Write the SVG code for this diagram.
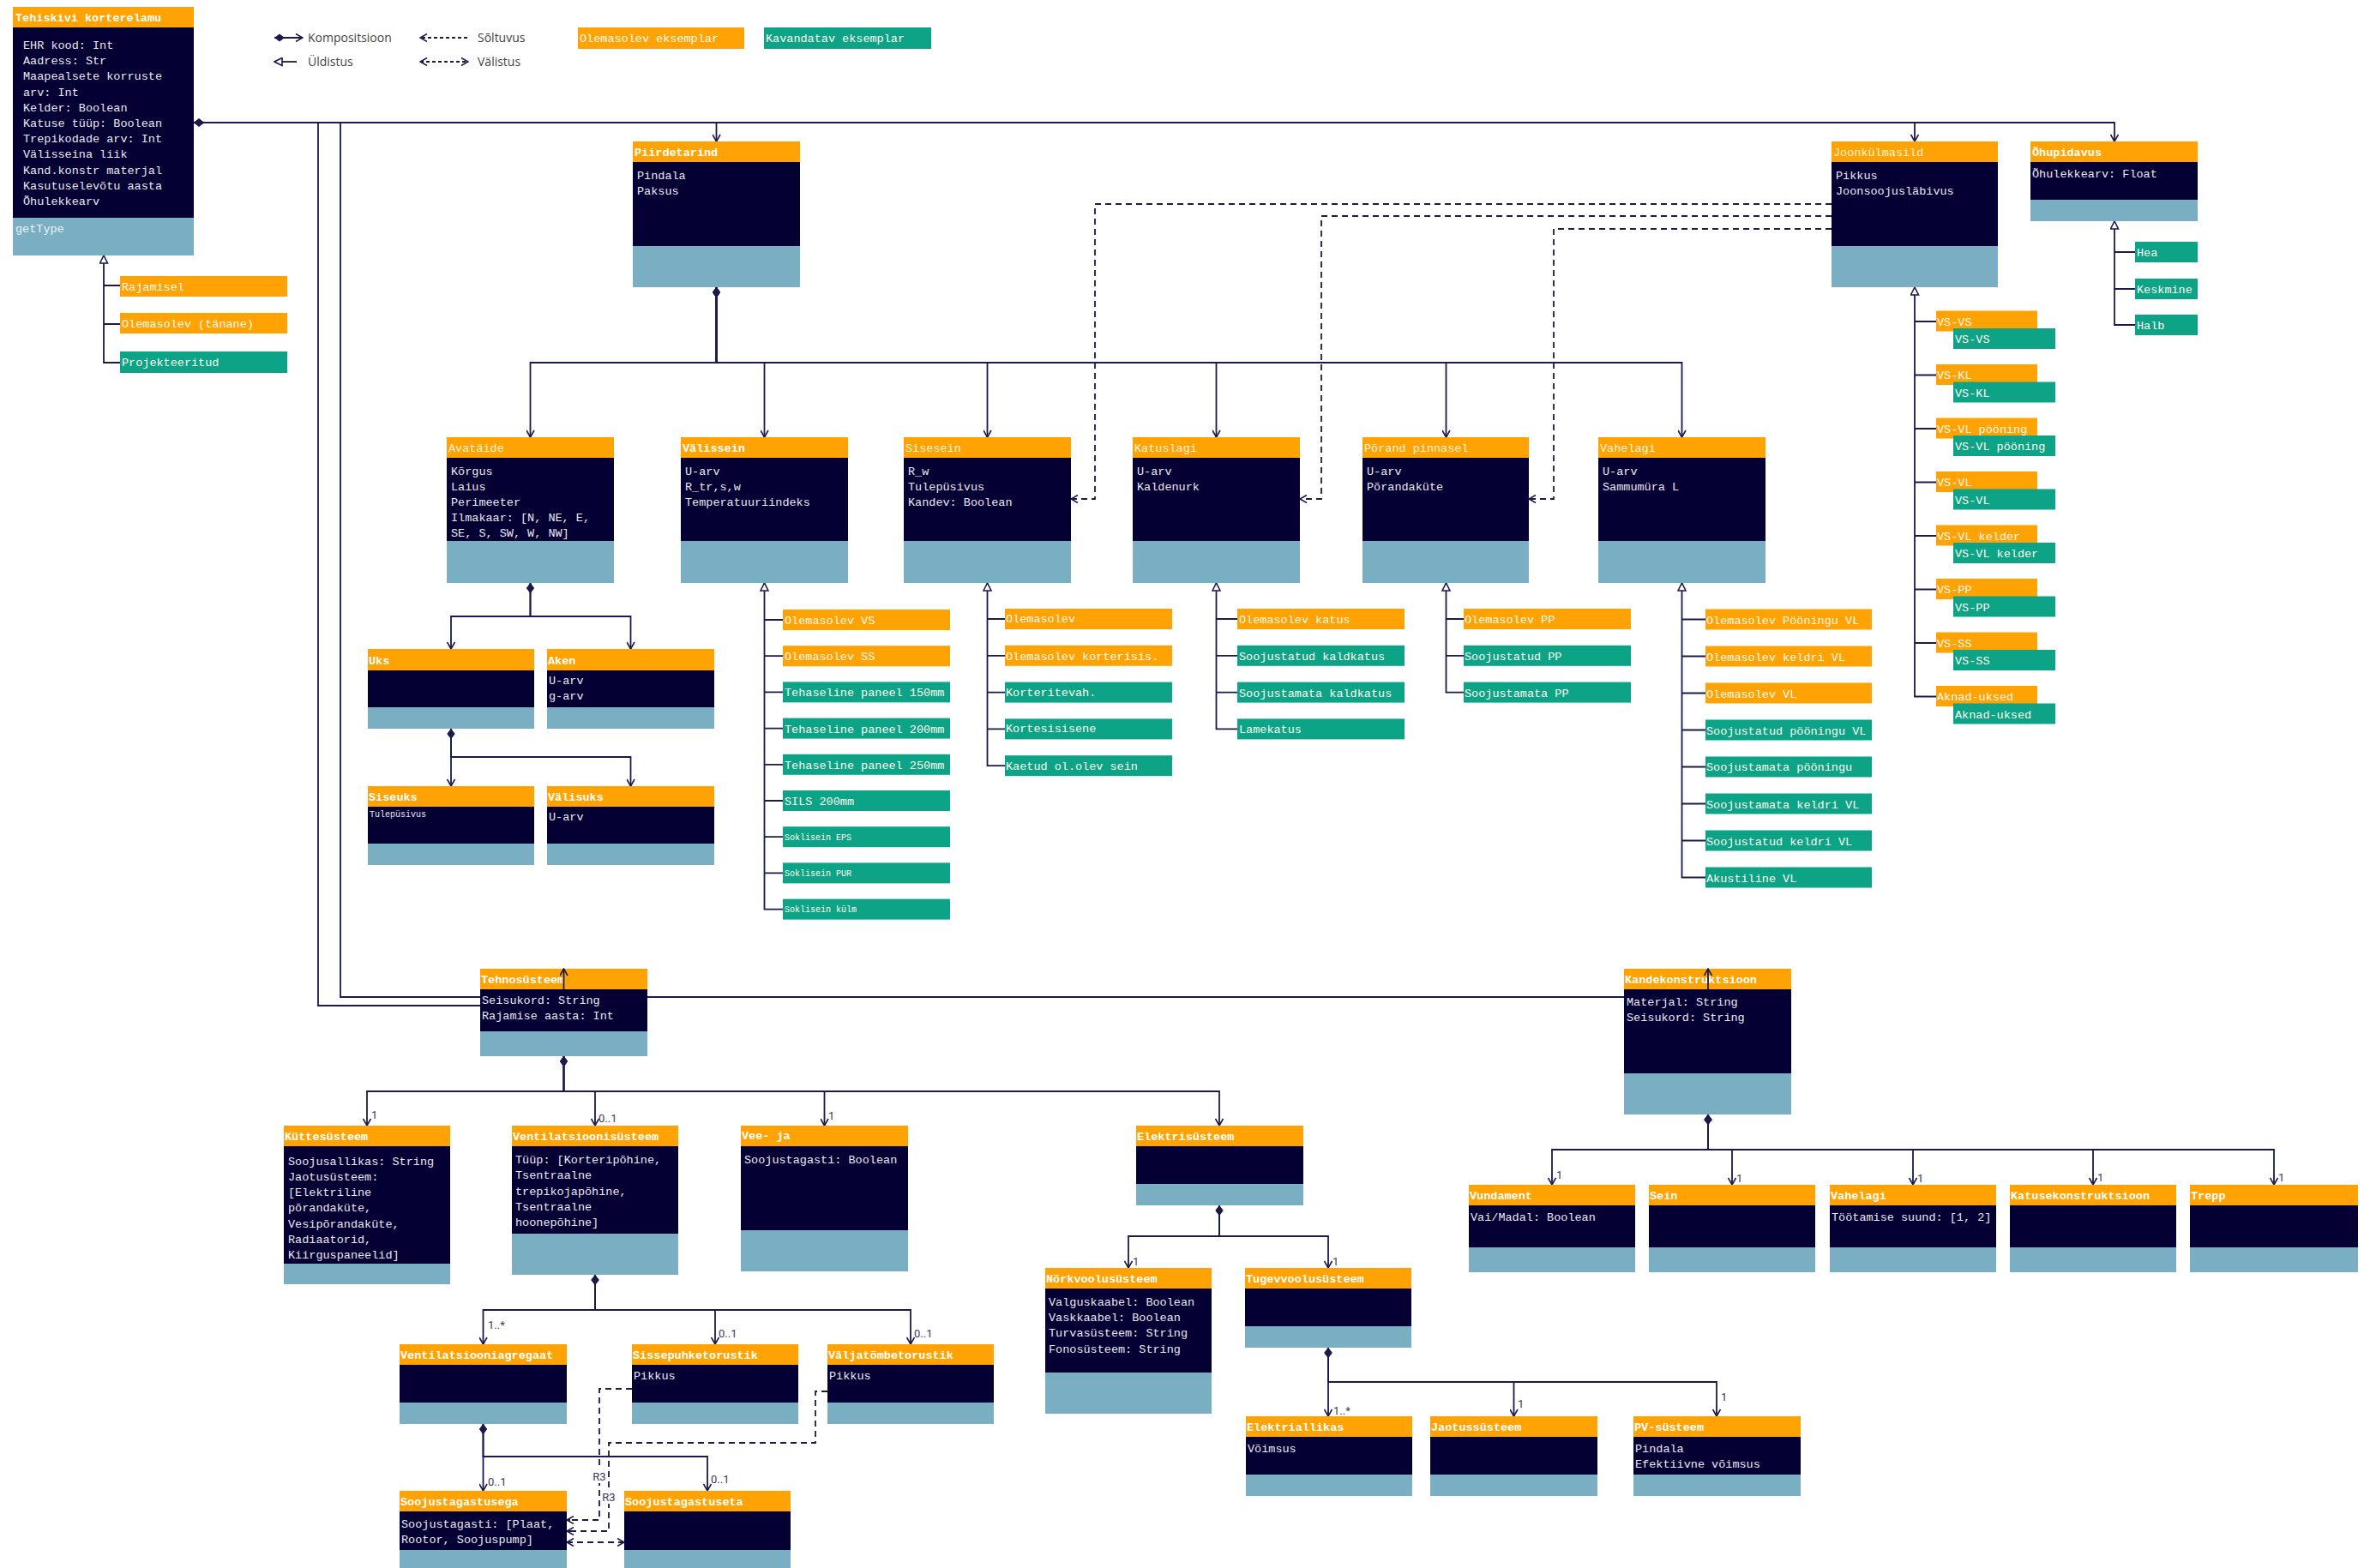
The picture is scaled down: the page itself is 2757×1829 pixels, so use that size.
<svg xmlns="http://www.w3.org/2000/svg" width="2757" height="1829" viewBox="0 0 2757 1829">
<style>
.o{fill:#FFA305}
.g{fill:#0DA386}
.b{fill:#050033}
.m{fill:#7AAEC3}
text{font-family:"Liberation Mono","DejaVu Sans Mono",monospace;font-size:13.5px}
.t{fill:#e9e9f2}
.h{fill:#ffffff;font-weight:bold}
.hn{fill:#fff4dc}
.lt{fill:#fffaf0}
.s{font-size:10px}
.mt{fill:#eef5f9}
.ln{fill:none;stroke:#1b1a4a;stroke-width:1.8}
.da{stroke-dasharray:7 5}
.mul{font-family:Roboto,"Liberation Sans",sans-serif;font-size:13px;fill:#3a3a55}
.leg{font-family:"Open Sans","Liberation Sans",sans-serif;font-size:14px;fill:#444}
</style>
<defs>
<marker id="arr" viewBox="0 0 10 10" refX="9" refY="5" markerWidth="10" markerHeight="10" markerUnits="userSpaceOnUse" orient="auto"><path d="M1,0.5 L9,5 L1,9.5" fill="none" stroke="#1b1a4a" stroke-width="1.6"/></marker>
<marker id="arrS" viewBox="0 0 10 10" refX="9" refY="5" markerWidth="10" markerHeight="10" markerUnits="userSpaceOnUse" orient="auto-start-reverse"><path d="M1,0.5 L9,5 L1,9.5" fill="none" stroke="#1b1a4a" stroke-width="1.6"/></marker>
<marker id="dia" viewBox="0 0 12 10" refX="0" refY="5" markerWidth="12" markerHeight="10" markerUnits="userSpaceOnUse" orient="auto"><path d="M0,5 L6,0.5 L12,5 L6,9.5 Z" fill="#1b1a4a"/></marker>
<marker id="tri" viewBox="0 0 11 11" refX="10" refY="5.5" markerWidth="11" markerHeight="11" markerUnits="userSpaceOnUse" orient="auto"><path d="M1,1 L10,5.5 L1,10 Z" fill="#fff" stroke="#1b1a4a" stroke-width="1.6"/></marker>
</defs>
<rect width="2757" height="1829" fill="#ffffff"/>

<g id="connectors">
<!-- from Tehiskivi -->
<path class="ln" marker-start="url(#dia)" marker-end="url(#arr)" d="M226,143 H835.5 V165"/>
<path class="ln" marker-start="url(#dia)" marker-end="url(#arr)" d="M226,143 H2233 V165"/>
<path class="ln" marker-start="url(#dia)" marker-end="url(#arr)" d="M226,143 H2466 V165"/>
<path class="ln" marker-start="url(#dia)" d="M226,143 H371 V1173 H657.5 V1154"/>
<path class="ln" marker-start="url(#dia)" d="M226,143 H397 V1163 H1992 V1154"/>
<!-- Tehiskivi generalisation -->
<path class="ln" marker-end="url(#tri)" d="M140,423 H121 V298"/>
<path class="ln" d="M121,333 H140 M121,378 H140"/>
<!-- Õhupidavus -->
<path class="ln" marker-end="url(#tri)" d="M2490,379 H2466 V258"/>
<path class="ln" d="M2466,294 H2490 M2466,337 H2490"/>
<!-- Joonkülmasild -->
<path class="ln" marker-end="url(#tri)" d="M2258,812.5 H2233 V335"/>
<path class="ln" d="M2233,375 H2258 M2233,437.5 H2258 M2233,500 H2258 M2233,562.5 H2258 M2233,625 H2258 M2233,687.5 H2258 M2233,750 H2258"/>
<!-- Piirdetarind composition -->
<path class="ln" marker-start="url(#dia)" marker-end="url(#arr)" d="M835.5,335 V423 H618.5 V510"/>
<path class="ln" marker-start="url(#dia)" marker-end="url(#arr)" d="M835.5,335 V423 H891.5 V510"/>
<path class="ln" marker-start="url(#dia)" marker-end="url(#arr)" d="M835.5,335 V423 H1151.5 V510"/>
<path class="ln" marker-start="url(#dia)" marker-end="url(#arr)" d="M835.5,335 V423 H1418.5 V510"/>
<path class="ln" marker-start="url(#dia)" marker-end="url(#arr)" d="M835.5,335 V423 H1686.5 V510"/>
<path class="ln" marker-start="url(#dia)" marker-end="url(#arr)" d="M835.5,335 V423 H1961.5 V510"/>
<!-- dependencies from Joonkülmasild -->
<path class="ln da" marker-end="url(#arr)" d="M2136,238 H1277 V582 H1249"/>
<path class="ln da" marker-end="url(#arr)" d="M2136,252 H1541 V582 H1516"/>
<path class="ln da" marker-end="url(#arr)" d="M2136,267 H1812 V582 H1783"/>
<!-- Välissein generalisation -->
<path class="ln" marker-end="url(#tri)" d="M913,1060.6 H891.5 V680"/>
<path class="ln" d="M891.5,723 H913 M891.5,765.2 H913 M891.5,807.4 H913 M891.5,849.6 H913 M891.5,891.8 H913 M891.5,934 H913 M891.5,976.2 H913 M891.5,1018.4 H913"/>
<!-- Sisesein -->
<path class="ln" marker-end="url(#tri)" d="M1172,893.2 H1151.5 V680"/>
<path class="ln" d="M1151.5,722 H1172 M1151.5,764.8 H1172 M1151.5,807.6 H1172 M1151.5,850.4 H1172"/>
<!-- Katuslagi -->
<path class="ln" marker-end="url(#tri)" d="M1443,850.4 H1418.5 V680"/>
<path class="ln" d="M1418.5,722 H1443 M1418.5,764.8 H1443 M1418.5,807.6 H1443"/>
<!-- Põrand -->
<path class="ln" marker-end="url(#tri)" d="M1707,807.6 H1686.5 V680"/>
<path class="ln" d="M1686.5,722 H1707 M1686.5,764.8 H1707"/>
<!-- Vahelagi -->
<path class="ln" marker-end="url(#tri)" d="M1989,1023.5 H1961.5 V680"/>
<path class="ln" d="M1961.5,722.5 H1989 M1961.5,765.5 H1989 M1961.5,808.5 H1989 M1961.5,851.5 H1989 M1961.5,894.5 H1989 M1961.5,937.5 H1989 M1961.5,980.5 H1989"/>
<!-- Avatäide -->
<path class="ln" marker-start="url(#dia)" marker-end="url(#arr)" d="M618.5,680 V719 H526 V757"/>
<path class="ln" marker-start="url(#dia)" marker-end="url(#arr)" d="M618.5,680 V719 H735.5 V757"/>
<!-- Uks -->
<path class="ln" marker-start="url(#dia)" marker-end="url(#arr)" d="M526,850 V917"/>
<path class="ln" marker-start="url(#dia)" marker-end="url(#arr)" d="M526,850 V883 H735.5 V917"/>
<!-- Tehnosüsteem -->
<path class="ln" marker-start="url(#dia)" marker-end="url(#arr)" d="M657.5,1232 V1273 H428 V1313"/>
<path class="ln" marker-start="url(#dia)" marker-end="url(#arr)" d="M657.5,1232 V1273 H694 V1313"/>
<path class="ln" marker-start="url(#dia)" marker-end="url(#arr)" d="M657.5,1232 V1273 H961.5 V1313"/>
<path class="ln" marker-start="url(#dia)" marker-end="url(#arr)" d="M657.5,1232 V1273 H1422 V1313"/>
<!-- Elektrisüsteem -->
<path class="ln" marker-start="url(#dia)" marker-end="url(#arr)" d="M1422,1406 V1442 H1316 V1479"/>
<path class="ln" marker-start="url(#dia)" marker-end="url(#arr)" d="M1422,1406 V1442 H1549 V1479"/>
<!-- Tugevvool -->
<path class="ln" marker-start="url(#dia)" marker-end="url(#arr)" d="M1549,1572 V1652"/>
<path class="ln" marker-start="url(#dia)" marker-end="url(#arr)" d="M1549,1572 V1612 H1765.5 V1652"/>
<path class="ln" marker-start="url(#dia)" marker-end="url(#arr)" d="M1549,1572 V1612 H2002 V1652"/>
<!-- Kandekonstruktsioon -->
<path class="ln" marker-start="url(#dia)" marker-end="url(#arr)" d="M1992,1300 V1341 H1810 V1382"/>
<path class="ln" marker-start="url(#dia)" marker-end="url(#arr)" d="M1992,1300 V1341 H2020 V1382"/>
<path class="ln" marker-start="url(#dia)" marker-end="url(#arr)" d="M1992,1300 V1341 H2231 V1382"/>
<path class="ln" marker-start="url(#dia)" marker-end="url(#arr)" d="M1992,1300 V1341 H2441 V1382"/>
<path class="ln" marker-start="url(#dia)" marker-end="url(#arr)" d="M1992,1300 V1341 H2652 V1382"/>
<!-- Ventilatsioonisüsteem -->
<path class="ln" marker-start="url(#dia)" marker-end="url(#arr)" d="M694,1487 V1528 H563.5 V1568"/>
<path class="ln" marker-start="url(#dia)" marker-end="url(#arr)" d="M694,1487 V1528 H834 V1568"/>
<path class="ln" marker-start="url(#dia)" marker-end="url(#arr)" d="M694,1487 V1528 H1062 V1568"/>
<!-- Agregaat -->
<path class="ln" marker-start="url(#dia)" marker-end="url(#arr)" d="M563.5,1661 V1739"/>
<path class="ln" marker-start="url(#dia)" marker-end="url(#arr)" d="M563.5,1661 V1699 H825 V1739"/>
<!-- R3 dependencies -->
<path class="ln da" marker-end="url(#arr)" d="M737,1620 H699 V1773 H661"/>
<path class="ln da" marker-end="url(#arr)" d="M965,1623 H951 V1683 H710 V1786 H661"/>
<path class="ln da" marker-start="url(#arrS)" marker-end="url(#arr)" d="M661,1799 H728"/>
<rect x="689" y="1713" width="20" height="17" fill="#fff"/>
<text class="mul" x="699" y="1727" text-anchor="middle">R3</text>
<rect x="700" y="1737" width="20" height="17" fill="#fff"/>
<text class="mul" x="710" y="1751" text-anchor="middle">R3</text>
<!-- multiplicities -->
<text class="mul" x="433" y="1305">1</text>
<text class="mul" x="698" y="1309">0..1</text>
<text class="mul" x="966" y="1306">1</text>
<text class="mul" x="1321" y="1476">1</text>
<text class="mul" x="1554" y="1476">1</text>
<text class="mul" x="1555" y="1650">1..*</text>
<text class="mul" x="1770" y="1642">1</text>
<text class="mul" x="2007" y="1634">1</text>
<text class="mul" x="1815" y="1375">1</text>
<text class="mul" x="2025" y="1379">1</text>
<text class="mul" x="2236" y="1379">1</text>
<text class="mul" x="2446" y="1378">1</text>
<text class="mul" x="2657" y="1378">1</text>
<text class="mul" x="569" y="1550">1..*</text>
<text class="mul" x="838" y="1560">0..1</text>
<text class="mul" x="1066" y="1560">0..1</text>
<text class="mul" x="569" y="1733">0..1</text>
<text class="mul" x="829" y="1730">0..1</text>
</g>

<g id="legend">
<path class="ln" marker-start="url(#dia)" marker-end="url(#arr)" d="M320,44 H353"/>
<text class="leg" x="359" y="49">Kompositsioon</text>
<path class="ln" marker-end="url(#tri)" d="M346,72 H320"/>
<text class="leg" x="359" y="77">Üldistus</text>
<path class="ln" stroke-dasharray="4 3" marker-end="url(#arr)" d="M545,44 H490"/>
<text class="leg" x="557" y="49">Sõltuvus</text>
<path class="ln" stroke-dasharray="4 3" marker-start="url(#arrS)" marker-end="url(#arr)" d="M490,72 H546"/>
<text class="leg" x="557" y="77">Välistus</text>
<rect class="o" x="674" y="32" width="194" height="25"/>
<text class="lt" x="676" y="49">Olemasolev eksemplar</text>
<rect class="g" x="891" y="32" width="195" height="25"/>
<text class="lt" x="893" y="49">Kavandatav eksemplar</text>
</g>

<g id="n-tehiskivi">
<rect class="o" x="15" y="8" width="211" height="24"/>
<rect class="b" x="15" y="32" width="211" height="222"/>
<rect class="m" x="15" y="254" width="211" height="44"/>
<text class="h" x="18" y="25">Tehiskivi korterelamu</text>
<text class="t" x="27" y="57">EHR kood: Int</text>
<text class="t" x="27" y="75">Aadress: Str</text>
<text class="t" x="27" y="93">Maapealsete korruste</text>
<text class="t" x="27" y="112">arv: Int</text>
<text class="t" x="27" y="130">Kelder: Boolean</text>
<text class="t" x="27" y="148">Katuse tüüp: Boolean</text>
<text class="t" x="27" y="166">Trepikodade arv: Int</text>
<text class="t" x="27" y="184">Välisseina liik</text>
<text class="t" x="27" y="203">Kand.konstr materjal</text>
<text class="t" x="27" y="221">Kasutuselevõtu aasta</text>
<text class="t" x="27" y="239">Õhulekkearv</text>
<text class="mt" x="18" y="271">getType</text>
</g>
<g id="n-rajamisel"><rect class="o" x="140" y="322" width="195" height="24"/><text class="lt" x="142" y="339">Rajamisel</text></g>
<g id="n-olemasolev-tanane"><rect class="o" x="140" y="365" width="195" height="24"/><text class="lt" x="142" y="382">Olemasolev (tänane)</text></g>
<g id="n-projekteeritud"><rect class="g" x="140" y="410" width="195" height="25"/><text class="lt" x="142" y="427">Projekteeritud</text></g>

<g id="n-piirdetarind">
<rect class="o" x="738" y="165" width="195" height="24"/>
<rect class="b" x="738" y="189" width="195" height="98"/>
<rect class="m" x="738" y="287" width="195" height="48"/>
<text class="h" x="740" y="182">Piirdetarind</text>
<text class="t" x="743" y="209">Pindala</text>
<text class="t" x="743" y="227">Paksus</text>
</g>
<g id="n-joonkulmasild">
<rect class="o" x="2136" y="165" width="194" height="24"/>
<rect class="b" x="2136" y="189" width="194" height="98"/>
<rect class="m" x="2136" y="287" width="194" height="48"/>
<text class="hn" x="2138" y="182">Joonkülmasild</text>
<text class="t" x="2141" y="209">Pikkus</text>
<text class="t" x="2141" y="227">Joonsoojusläbivus</text>
</g>
<g id="n-ohupidavus">
<rect class="o" x="2368" y="165" width="195" height="24"/>
<rect class="b" x="2368" y="189" width="195" height="44"/>
<rect class="m" x="2368" y="233" width="195" height="25"/>
<text class="h" x="2370" y="182">Õhupidavus</text>
<text class="t" x="2370" y="207">Õhulekkearv: Float</text>
</g>
<g id="n-hea"><rect class="g" x="2490" y="282" width="73" height="24"/><text class="lt" x="2492" y="299">Hea</text></g>
<g id="n-keskmine"><rect class="g" x="2490" y="325" width="73" height="24"/><text class="lt" x="2492" y="342">Keskmine</text></g>
<g id="n-halb"><rect class="g" x="2490" y="367" width="73" height="24"/><text class="lt" x="2492" y="384">Halb</text></g>

<g id="n-vs-vs"><rect class="o" x="2258" y="362.5" width="118" height="24"/><text class="lt" x="2259" y="379.5">VS-VS</text><rect class="g" x="2278" y="383" width="119" height="24"/><text class="lt" x="2280" y="400">VS-VS</text></g>
<g id="n-vs-kl"><rect class="o" x="2258" y="425" width="118" height="24"/><text class="lt" x="2259" y="442">VS-KL</text><rect class="g" x="2278" y="445.5" width="119" height="24"/><text class="lt" x="2280" y="462.5">VS-KL</text></g>
<g id="n-vs-vl-pooning"><rect class="o" x="2258" y="487.5" width="118" height="24"/><text class="lt" x="2259" y="504.5">VS-VL pööning</text><rect class="g" x="2278" y="508" width="119" height="24"/><text class="lt" x="2280" y="525">VS-VL pööning</text></g>
<g id="n-vs-vl"><rect class="o" x="2258" y="550" width="118" height="24"/><text class="lt" x="2259" y="567">VS-VL</text><rect class="g" x="2278" y="570.5" width="119" height="24"/><text class="lt" x="2280" y="587.5">VS-VL</text></g>
<g id="n-vs-vl-kelder"><rect class="o" x="2258" y="612.5" width="118" height="24"/><text class="lt" x="2259" y="629.5">VS-VL kelder</text><rect class="g" x="2278" y="633" width="119" height="24"/><text class="lt" x="2280" y="650">VS-VL kelder</text></g>
<g id="n-vs-pp"><rect class="o" x="2258" y="675" width="118" height="24"/><text class="lt" x="2259" y="692">VS-PP</text><rect class="g" x="2278" y="695.5" width="119" height="24"/><text class="lt" x="2280" y="712.5">VS-PP</text></g>
<g id="n-vs-ss"><rect class="o" x="2258" y="737.5" width="118" height="24"/><text class="lt" x="2259" y="754.5">VS-SS</text><rect class="g" x="2278" y="758" width="119" height="24"/><text class="lt" x="2280" y="775">VS-SS</text></g>
<g id="n-aknad-uksed"><rect class="o" x="2258" y="800" width="118" height="24"/><text class="lt" x="2259" y="817">Aknad-uksed</text><rect class="g" x="2278" y="820.5" width="119" height="24"/><text class="lt" x="2280" y="837.5">Aknad-uksed</text></g>

<g id="n-avataide">
<rect class="o" x="521" y="510" width="195" height="24"/>
<rect class="b" x="521" y="534" width="195" height="97"/>
<rect class="m" x="521" y="631" width="195" height="49"/>
<text class="hn" x="523" y="527">Avatäide</text>
<text class="t" x="526" y="554">Kõrgus</text>
<text class="t" x="526" y="572">Laius</text>
<text class="t" x="526" y="590">Perimeeter</text>
<text class="t" x="526" y="608">Ilmakaar: [N, NE, E,</text>
<text class="t" x="526" y="626">SE, S, SW, W, NW]</text>
</g>
<g id="n-valissein">
<rect class="o" x="794" y="510" width="195" height="24"/>
<rect class="b" x="794" y="534" width="195" height="97"/>
<rect class="m" x="794" y="631" width="195" height="49"/>
<text class="h" x="796" y="527">Välissein</text>
<text class="t" x="799" y="554">U-arv</text>
<text class="t" x="799" y="572">R_tr,s,w</text>
<text class="t" x="799" y="590">Temperatuuriindeks</text>
</g>
<g id="n-sisesein">
<rect class="o" x="1054" y="510" width="195" height="24"/>
<rect class="b" x="1054" y="534" width="195" height="97"/>
<rect class="m" x="1054" y="631" width="195" height="49"/>
<text class="hn" x="1056" y="527">Sisesein</text>
<text class="t" x="1059" y="554">R_w</text>
<text class="t" x="1059" y="572">Tulepüsivus</text>
<text class="t" x="1059" y="590">Kandev: Boolean</text>
</g>
<g id="n-katuslagi">
<rect class="o" x="1321" y="510" width="195" height="24"/>
<rect class="b" x="1321" y="534" width="195" height="97"/>
<rect class="m" x="1321" y="631" width="195" height="49"/>
<text class="hn" x="1323" y="527">Katuslagi</text>
<text class="t" x="1326" y="554">U-arv</text>
<text class="t" x="1326" y="572">Kaldenurk</text>
</g>
<g id="n-porand">
<rect class="o" x="1589" y="510" width="194" height="24"/>
<rect class="b" x="1589" y="534" width="194" height="97"/>
<rect class="m" x="1589" y="631" width="194" height="49"/>
<text class="hn" x="1591" y="527">Põrand pinnasel</text>
<text class="t" x="1594" y="554">U-arv</text>
<text class="t" x="1594" y="572">Põrandaküte</text>
</g>
<g id="n-vahelagi">
<rect class="o" x="1864" y="510" width="195" height="24"/>
<rect class="b" x="1864" y="534" width="195" height="97"/>
<rect class="m" x="1864" y="631" width="195" height="49"/>
<text class="hn" x="1866" y="527">Vahelagi</text>
<text class="t" x="1869" y="554">U-arv</text>
<text class="t" x="1869" y="572">Sammumüra L</text>
</g>

<g id="n-valissein-children">
<g id="n-olemasolev-vs"><rect class="o" x="913" y="711" width="195" height="24"/><text class="lt" x="915" y="728">Olemasolev VS</text></g>
<g id="n-olemasolev-ss"><rect class="o" x="913" y="753.2" width="195" height="24"/><text class="lt" x="915" y="770.2">Olemasolev SS</text></g>
<g id="n-paneel-150"><rect class="g" x="913" y="795.4" width="195" height="24"/><text class="lt" x="915" y="812.4">Tehaseline paneel 150mm</text></g>
<g id="n-paneel-200"><rect class="g" x="913" y="837.6" width="195" height="24"/><text class="lt" x="915" y="854.6">Tehaseline paneel 200mm</text></g>
<g id="n-paneel-250"><rect class="g" x="913" y="879.8" width="195" height="24"/><text class="lt" x="915" y="896.8">Tehaseline paneel 250mm</text></g>
<g id="n-sils"><rect class="g" x="913" y="922" width="195" height="24"/><text class="lt" x="915" y="939">SILS 200mm</text></g>
<g id="n-sokl-eps"><rect class="g" x="913" y="964.2" width="195" height="24"/><text class="lt s" x="915" y="979.5">Soklisein EPS</text></g>
<g id="n-sokl-pur"><rect class="g" x="913" y="1006.4" width="195" height="24"/><text class="lt s" x="915" y="1021.7">Soklisein PUR</text></g>
<g id="n-sokl-kulm"><rect class="g" x="913" y="1048.6" width="195" height="24"/><text class="lt s" x="915" y="1063.9">Soklisein külm</text></g>
</g>
<g id="n-sisesein-children">
<g id="n-ss-olemasolev"><rect class="o" x="1172" y="710" width="195" height="24"/><text class="lt" x="1173" y="726">Olemasolev</text></g>
<g id="n-ss-korterisis"><rect class="o" x="1172" y="752.8" width="195" height="24"/><text class="lt" x="1173" y="769.8">Olemasolev korterisis.</text></g>
<g id="n-ss-korteritevah"><rect class="g" x="1172" y="795.6" width="195" height="24"/><text class="lt" x="1173" y="811.6">Korteritevah.</text></g>
<g id="n-ss-kortesisisene"><rect class="g" x="1172" y="838.4" width="195" height="24"/><text class="lt" x="1173" y="854.4">Kortesisisene</text></g>
<g id="n-ss-kaetud"><rect class="g" x="1172" y="881.2" width="195" height="24"/><text class="lt" x="1173" y="898.2">Kaetud ol.olev sein</text></g>
</g>
<g id="n-katuslagi-children">
<g id="n-olemasolev-katus"><rect class="o" x="1443" y="710" width="195" height="24"/><text class="lt" x="1445" y="727">Olemasolev katus</text></g>
<g id="n-soojustatud-kaldkatus"><rect class="g" x="1443" y="752.8" width="195" height="24"/><text class="lt" x="1445" y="769.8">Soojustatud kaldkatus</text></g>
<g id="n-soojustamata-kaldkatus"><rect class="g" x="1443" y="795.6" width="195" height="24"/><text class="lt" x="1445" y="812.6">Soojustamata kaldkatus</text></g>
<g id="n-lamekatus"><rect class="g" x="1443" y="838.4" width="195" height="24"/><text class="lt" x="1445" y="855.4">Lamekatus</text></g>
</g>
<g id="n-porand-children">
<g id="n-olemasolev-pp"><rect class="o" x="1707" y="710" width="195" height="24"/><text class="lt" x="1708" y="727">Olemasolev PP</text></g>
<g id="n-soojustatud-pp"><rect class="g" x="1707" y="752.8" width="195" height="24"/><text class="lt" x="1708" y="769.8">Soojustatud PP</text></g>
<g id="n-soojustamata-pp"><rect class="g" x="1707" y="795.6" width="195" height="24"/><text class="lt" x="1708" y="812.6">Soojustamata PP</text></g>
</g>
<g id="n-vahelagi-children">
<g id="n-vl-1"><rect class="o" x="1989" y="710.5" width="194" height="24"/><text class="lt" x="1990" y="727.5">Olemasolev Pööningu VL</text></g>
<g id="n-vl-2"><rect class="o" x="1989" y="753.5" width="194" height="24"/><text class="lt" x="1990" y="770.5">Olemasolev keldri VL</text></g>
<g id="n-vl-3"><rect class="o" x="1989" y="796.5" width="194" height="24"/><text class="lt" x="1990" y="813.5">Olemasolev VL</text></g>
<g id="n-vl-4"><rect class="g" x="1989" y="839.5" width="194" height="24"/><text class="lt" x="1990" y="856.5">Soojustatud pööningu VL</text></g>
<g id="n-vl-5"><rect class="g" x="1989" y="882.5" width="194" height="24"/><text class="lt" x="1990" y="898.5">Soojustamata pööningu</text></g>
<g id="n-vl-6"><rect class="g" x="1989" y="925.5" width="194" height="24"/><text class="lt" x="1990" y="942.5">Soojustamata keldri VL</text></g>
<g id="n-vl-7"><rect class="g" x="1989" y="968.5" width="194" height="24"/><text class="lt" x="1990" y="985.5">Soojustatud keldri VL</text></g>
<g id="n-vl-8"><rect class="g" x="1989" y="1011.5" width="194" height="24"/><text class="lt" x="1990" y="1028.5">Akustiline VL</text></g>
</g>

<g id="n-uks">
<rect class="o" x="429" y="757" width="194" height="25"/>
<rect class="b" x="429" y="782" width="194" height="43"/>
<rect class="m" x="429" y="825" width="194" height="25"/>
<text class="h" x="430" y="775">Uks</text>
</g>
<g id="n-aken">
<rect class="o" x="638" y="757" width="195" height="25"/>
<rect class="b" x="638" y="782" width="195" height="43"/>
<rect class="m" x="638" y="825" width="195" height="25"/>
<text class="h" x="639" y="775">Aken</text>
<text class="t" x="640" y="798">U-arv</text>
<text class="t" x="640" y="816">g-arv</text>
</g>
<g id="n-siseuks">
<rect class="o" x="429" y="917" width="194" height="24"/>
<rect class="b" x="429" y="941" width="194" height="43"/>
<rect class="m" x="429" y="984" width="194" height="25"/>
<text class="h" x="430" y="934">Siseuks</text>
<text class="t s" x="431" y="953">Tulepüsivus</text>
</g>
<g id="n-valisuks">
<rect class="o" x="638" y="917" width="195" height="24"/>
<rect class="b" x="638" y="941" width="195" height="43"/>
<rect class="m" x="638" y="984" width="195" height="25"/>
<text class="h" x="639" y="934">Välisuks</text>
<text class="t" x="640" y="957">U-arv</text>
</g>

<g id="n-tehnosusteem">
<rect class="o" x="560" y="1130" width="195" height="24"/>
<rect class="b" x="560" y="1154" width="195" height="49"/>
<rect class="m" x="560" y="1203" width="195" height="29"/>
<text class="h" x="561" y="1147">Tehnosüsteem</text>
<text class="t" x="562" y="1171">Seisukord: String</text>
<text class="t" x="562" y="1189">Rajamise aasta: Int</text>
</g>
<g id="n-kandekonstruktsioon">
<rect class="o" x="1894" y="1130" width="195" height="24"/>
<rect class="b" x="1894" y="1154" width="195" height="98"/>
<rect class="m" x="1894" y="1252" width="195" height="48"/>
<text class="h" x="1895" y="1147">Kandekonstruktsioon</text>
<text class="t" x="1897" y="1173">Materjal: String</text>
<text class="t" x="1897" y="1191">Seisukord: String</text>
</g>
<g id="n-kuttesusteem">
<rect class="o" x="331" y="1313" width="194" height="24"/>
<rect class="b" x="331" y="1337" width="194" height="137"/>
<text class="h" x="332" y="1330">Küttesüsteem</text>
<text class="t" x="336" y="1359">Soojusallikas: String</text>
<text class="t" x="336" y="1377">Jaotusüsteem:</text>
<text class="t" x="336" y="1395">[Elektriline</text>
<text class="t" x="336" y="1413">põrandaküte,</text>
<text class="t" x="336" y="1432">Vesipõrandaküte,</text>
<text class="t" x="336" y="1450">Radiaatorid,</text>
<text class="t" x="336" y="1468">Kiirguspaneelid]</text>
<rect class="m" x="331" y="1474" width="194" height="24"/>
</g>
<g id="n-ventilatsioonisusteem">
<rect class="o" x="597" y="1313" width="194" height="24"/>
<rect class="b" x="597" y="1337" width="194" height="102"/>
<rect class="m" x="597" y="1439" width="194" height="48"/>
<text class="h" x="598" y="1330">Ventilatsioonisüsteem</text>
<text class="t" x="601" y="1357">Tüüp: [Korteripõhine,</text>
<text class="t" x="601" y="1375">Tsentraalne</text>
<text class="t" x="601" y="1394">trepikojapõhine,</text>
<text class="t" x="601" y="1412">Tsentraalne</text>
<text class="t" x="601" y="1430">hoonepõhine]</text>
</g>
<g id="n-vee-ja">
<rect class="o" x="864" y="1313" width="195" height="24"/>
<rect class="b" x="864" y="1337" width="195" height="98"/>
<rect class="m" x="864" y="1435" width="195" height="48"/>
<text class="h" x="865" y="1329">Vee- ja</text>
<text class="t" x="868" y="1357">Soojustagasti: Boolean</text>
</g>
<g id="n-elektrisusteem">
<rect class="o" x="1325" y="1313" width="195" height="24"/>
<rect class="b" x="1325" y="1337" width="195" height="44"/>
<rect class="m" x="1325" y="1381" width="195" height="25"/>
<text class="h" x="1326" y="1330">Elektrisüsteem</text>
</g>
<g id="n-norkvoolususteem">
<rect class="o" x="1219" y="1479" width="194" height="24"/>
<rect class="b" x="1219" y="1503" width="194" height="98"/>
<rect class="m" x="1219" y="1601" width="194" height="48"/>
<text class="h" x="1220" y="1496">Nõrkvoolusüsteem</text>
<text class="t" x="1223" y="1523">Valguskaabel: Boolean</text>
<text class="t" x="1223" y="1541">Vaskkaabel: Boolean</text>
<text class="t" x="1223" y="1559">Turvasüsteem: String</text>
<text class="t" x="1223" y="1578">Fonosüsteem: String</text>
</g>
<g id="n-tugevvoolususteem">
<rect class="o" x="1452" y="1479" width="194" height="24"/>
<rect class="b" x="1452" y="1503" width="194" height="44"/>
<rect class="m" x="1452" y="1547" width="194" height="25"/>
<text class="h" x="1453" y="1496">Tugevvoolusüsteem</text>
</g>
<g id="n-elektriallikas">
<rect class="o" x="1453" y="1652" width="194" height="24"/>
<rect class="b" x="1453" y="1676" width="194" height="44"/>
<rect class="m" x="1453" y="1720" width="194" height="25"/>
<text class="h" x="1454" y="1669">Elektriallikas</text>
<text class="t" x="1455" y="1694">Võimsus</text>
</g>
<g id="n-jaotussusteem">
<rect class="o" x="1668" y="1652" width="195" height="24"/>
<rect class="b" x="1668" y="1676" width="195" height="44"/>
<rect class="m" x="1668" y="1720" width="195" height="25"/>
<text class="h" x="1669" y="1669">Jaotussüsteem</text>
</g>
<g id="n-pv-susteem">
<rect class="o" x="1905" y="1652" width="195" height="24"/>
<rect class="b" x="1905" y="1676" width="195" height="44"/>
<rect class="m" x="1905" y="1720" width="195" height="25"/>
<text class="h" x="1906" y="1669">PV-süsteem</text>
<text class="t" x="1907" y="1694">Pindala</text>
<text class="t" x="1907" y="1712">Efektiivne võimsus</text>
</g>
<g id="n-vundament">
<rect class="o" x="1713" y="1382" width="194" height="24"/>
<rect class="b" x="1713" y="1406" width="194" height="49"/>
<rect class="m" x="1713" y="1455" width="194" height="29"/>
<text class="h" x="1714" y="1399">Vundament</text>
<text class="t" x="1715" y="1424">Vai/Madal: Boolean</text>
</g>
<g id="n-sein">
<rect class="o" x="1923" y="1382" width="194" height="24"/>
<rect class="b" x="1923" y="1406" width="194" height="49"/>
<rect class="m" x="1923" y="1455" width="194" height="29"/>
<text class="h" x="1924" y="1399">Sein</text>
</g>
<g id="n-vahelagi-k">
<rect class="o" x="2134" y="1382" width="194" height="24"/>
<rect class="b" x="2134" y="1406" width="194" height="49"/>
<rect class="m" x="2134" y="1455" width="194" height="29"/>
<text class="h" x="2135" y="1399">Vahelagi</text>
<text class="t" x="2136" y="1424">Töötamise suund: [1, 2]</text>
</g>
<g id="n-katusekonstruktsioon">
<rect class="o" x="2344" y="1382" width="194" height="24"/>
<rect class="b" x="2344" y="1406" width="194" height="49"/>
<rect class="m" x="2344" y="1455" width="194" height="29"/>
<text class="h" x="2345" y="1399">Katusekonstruktsioon</text>
</g>
<g id="n-trepp">
<rect class="o" x="2554" y="1382" width="196" height="24"/>
<rect class="b" x="2554" y="1406" width="196" height="49"/>
<rect class="m" x="2554" y="1455" width="196" height="29"/>
<text class="h" x="2555" y="1399">Trepp</text>
</g>
<g id="n-ventilatsiooniagregaat">
<rect class="o" x="466" y="1568" width="195" height="24"/>
<rect class="b" x="466" y="1592" width="195" height="44"/>
<rect class="m" x="466" y="1636" width="195" height="25"/>
<text class="h" x="467" y="1585">Ventilatsiooniagregaat</text>
</g>
<g id="n-sissepuhketorustik">
<rect class="o" x="737" y="1568" width="194" height="24"/>
<rect class="b" x="737" y="1592" width="194" height="44"/>
<rect class="m" x="737" y="1636" width="194" height="25"/>
<text class="h" x="738" y="1585">Sissepuhketorustik</text>
<text class="t" x="739" y="1609">Pikkus</text>
</g>
<g id="n-valjatombetorustik">
<rect class="o" x="965" y="1568" width="194" height="24"/>
<rect class="b" x="965" y="1592" width="194" height="44"/>
<rect class="m" x="965" y="1636" width="194" height="25"/>
<text class="h" x="966" y="1585">Väljatõmbetorustik</text>
<text class="t" x="967" y="1609">Pikkus</text>
</g>
<g id="n-soojustagastusega">
<rect class="o" x="466" y="1739" width="195" height="24"/>
<rect class="b" x="466" y="1763" width="195" height="45"/>
<rect class="m" x="466" y="1808" width="195" height="21"/>
<text class="h" x="467" y="1756">Soojustagastusega</text>
<text class="t" x="468" y="1782">Soojustagasti: [Plaat,</text>
<text class="t" x="468" y="1800">Rootor, Soojuspump]</text>
</g>
<g id="n-soojustagastuseta">
<rect class="o" x="728" y="1739" width="194" height="24"/>
<rect class="b" x="728" y="1763" width="194" height="45"/>
<rect class="m" x="728" y="1808" width="194" height="21"/>
<text class="h" x="729" y="1756">Soojustagastuseta</text>
</g>

<g id="connectors-over">
<path class="ln" marker-end="url(#arr)" d="M657.5,1154 V1130"/>
<path class="ln" marker-end="url(#arr)" d="M1992,1154 V1130"/>
<path class="ln da" d="M661,1773 H665 M661,1786 H665"/>
</g>
</svg>
